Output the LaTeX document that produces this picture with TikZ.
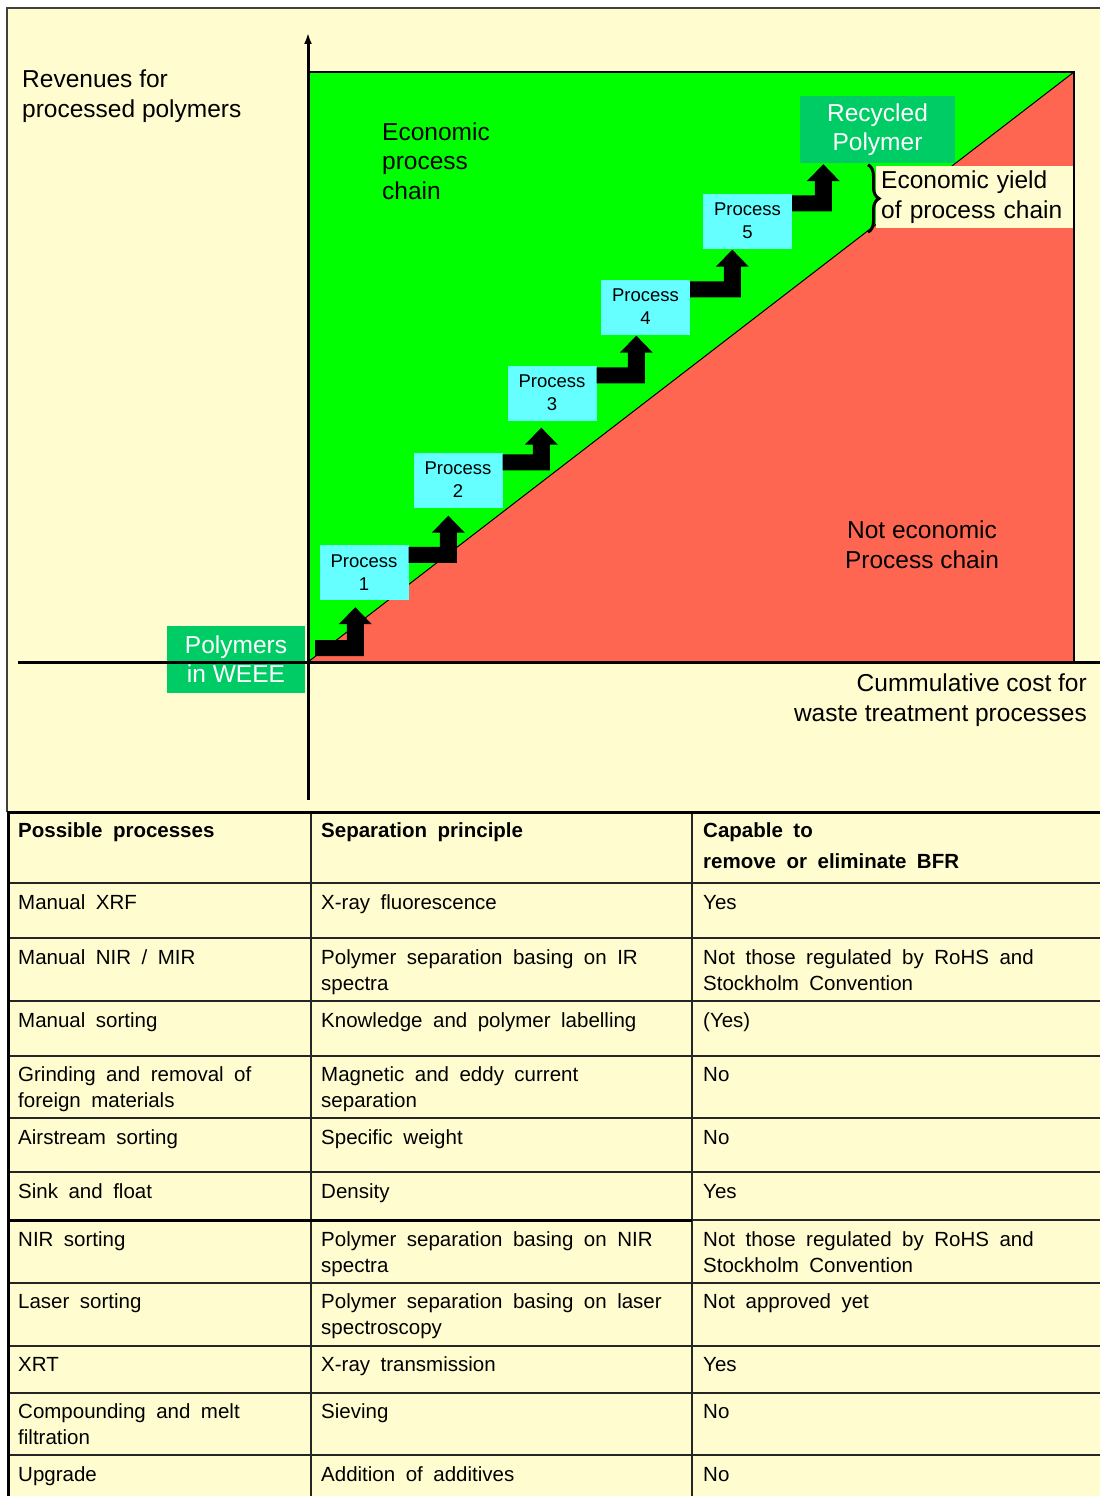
\documentclass[tikz,border=0pt]{standalone}
\usepackage{fontspec}
\setmainfont{Liberation Sans}
\usepackage{tikz}
\usetikzlibrary{arrows.meta,calc,decorations.pathreplacing}

\definecolor{paper}{RGB}{255,253,208}
\definecolor{econ}{RGB}{0,255,0}
\definecolor{loss}{RGB}{255,102,82}
\definecolor{poly}{RGB}{0,204,102}
\definecolor{proc}{RGB}{102,255,255}

\tikzset{
  axislabel/.style={font={\fontsize{24.5}{29.5}\selectfont}, inner sep=0pt, align=left},
  procbox/.style={fill=proc, minimum width=89pt, minimum height=55pt, inner sep=0pt, align=center, font={\fontsize{18.5}{23}\selectfont}},
  polybox/.style={fill=poly, text=white, inner sep=0pt, align=center, font={\fontsize{24.5}{29.5}\selectfont}},
  tabcell/.style={anchor=base west, inner sep=0pt, align=left, font={\fontsize{20.5}{26}\selectfont\spaceskip=10.5pt\relax}},
  tabhead/.style={tabcell, font={\fontsize{20.5}{31}\selectfont\bfseries\spaceskip=10.5pt\relax}},
}

% black step arrow: from point #1 up to node #2, tip #3 from its left side, #4 below it
\newcommand\steparrow[4]{%
  \fill[black] let \p1=(#1), \p2=(#2.south west) in
    (\x1, \y1-18pt) -- (\x2+#3pt+8.5pt, \y1-18pt) -- (\x2+#3pt+8.5pt, \y2-#4pt-17pt)
    -- (\x2+#3pt+16.5pt, \y2-#4pt-17pt) -- (\x2+#3pt, \y2-#4pt)
    -- (\x2+#3pt-16.5pt, \y2-#4pt-17pt) -- (\x2+#3pt-8.5pt, \y2-#4pt-17pt)
    -- (\x2+#3pt-8.5pt, \y1-2pt) -- (\x1, \y1-2pt) -- cycle;
}

\begin{document}
\begin{tikzpicture}[x=1pt, y=-1pt]
        \useasboundingbox (0,0) rectangle (1100,1496);
        \fill[white] (0,0) rectangle (1100,1496);
        \fill[paper] (7,8) rectangle (1100,1496);
        \draw[line width=1.5pt, black!75] (7,812) -- (7,8) -- (1100,8);

        % chart areas
        \fill[econ] (308,72) rectangle (1074,662);
        \fill[loss] (308,662) -- (1074,72) -- (1074,662) -- cycle;
        \draw[line width=1pt] (308,662) -- (1074,72);

        \coordinate (o) at (308,662);
        \coordinate (s0) at (315,638);

        \node[axislabel, anchor=base west] (rev) at (22,117) {Revenues for\\processed polymers};
        \node[axislabel, anchor=base west] (econlabel) at (382,199) {Economic\\process\\chain};
        \node[axislabel, anchor=base, align=center] (lossl) at (922,568) {Not economic\\Process chain};
        \node[axislabel, anchor=base east, align=right] (cost) at (1087,721) {Cummulative cost for\\waste treatment processes};

        \node[procbox] (p1) at (364,572.5) {Process\\1};
        \node[procbox] (p2) at (458,480) {Process\\2};
        \node[procbox] (p3) at (552,393) {Process\\3};
        \node[procbox] (p4) at (645.5,307) {Process\\4};
        \node[procbox] (p5) at (747.5,221) {Process\\5};

        \node[polybox, minimum width=155pt, minimum height=67pt] (rec) at (877.5,129.5) {Recycled\\Polymer};
        \node[polybox, minimum width=138pt, minimum height=67pt] (weee) at (236,659) {Polymers\\in WEEE};

        \node[axislabel, fill=paper, anchor=west, text width=188pt, minimum height=62pt, inner xsep=5pt] (yield) at (876,197) {Economic yield\\of process chain};

        \steparrow{s0}{p1}{36}{7}
        \steparrow{p1.north east}{p2}{35}{8}
        \steparrow{p2.north east}{p3}{34}{7}
        \steparrow{p3.north east}{p4}{35.5}{1}
        \steparrow{p4.north east}{p5}{29.5}{1}
        \steparrow{p5.north east}{rec}{23.5}{1}

        \draw[decorate, decoration={brace, amplitude=11pt}, line width=3pt]
            ($(yield.north west)+(-8,-1)$) -- ($(yield.south west)+(-8,4)$);

        \draw[line width=1.2pt] (308,72) -- (1074,72) -- (1074,662);

        % axes
        \draw[line width=3pt, -{Latex[length=11pt,width=8pt]}] (308,800) -- (308,33);
        \draw[line width=3pt] (18,662) -- (1100,662);

        % table
        \draw[line width=1.3pt, black!85] (311,812) -- (311,1496) (692,812) -- (692,1496);
        \draw[line width=1.3pt, black!85] (8,883) -- (1100,883) (8,938) -- (1100,938)
            (8,1001) -- (1100,1001) (8,1056) -- (1100,1056) (8,1118) -- (1100,1118)
            (8,1172) -- (1100,1172) (692,1220) -- (1100,1220) (8,1283) -- (1100,1283)
            (8,1346) -- (1100,1346) (8,1393) -- (1100,1393) (8,1455) -- (1100,1455);
        \draw[line width=3pt] (8,1220) -- (692,1220);
        \draw[line width=3pt] (1100,812) -- (8,812) -- (8,1496);

        \node[tabhead] (h1) at (18,837) {Possible processes};
        \node[tabhead] (h2) at (321,837) {Separation principle};
        \node[tabhead] (h3) at (703,868) {Capable to\\remove or eliminate BFR};

        \node[tabcell] (a1) at (18,909) {Manual XRF};
        \node[tabcell] (b1) at (321,909) {X-ray fluorescence};
        \node[tabcell] (c1) at (703,909) {Yes};

        \node[tabcell] (a2) at (18,964) {Manual NIR / MIR};
        \node[tabcell] (b2) at (321,990) {Polymer separation basing on IR\\spectra};
        \node[tabcell] (c2) at (703,990) {Not those regulated by RoHS and\\Stockholm Convention};

        \node[tabcell] (a3) at (18,1027) {Manual sorting};
        \node[tabcell] (b3) at (321,1027) {Knowledge and polymer labelling};
        \node[tabcell] (c3) at (703,1027) {(Yes)};

        \node[tabcell] (a4) at (18,1107) {Grinding and removal of\\foreign materials};
        \node[tabcell] (b4) at (321,1107) {Magnetic and eddy current\\separation};
        \node[tabcell] (c4) at (703,1081) {No};

        \node[tabcell] (a5) at (18,1144) {Airstream sorting};
        \node[tabcell] (b5) at (321,1144) {Specific weight};
        \node[tabcell] (c5) at (703,1144) {No};

        \node[tabcell] (a6) at (18,1198) {Sink and float};
        \node[tabcell] (b6) at (321,1198) {Density};
        \node[tabcell] (c6) at (703,1198) {Yes};

        \node[tabcell] (a7) at (18,1246) {NIR sorting};
        \node[tabcell] (b7) at (321,1272) {Polymer separation basing on NIR\\spectra};
        \node[tabcell] (c7) at (703,1272) {Not those regulated by RoHS and\\Stockholm Convention};

        \node[tabcell] (a8) at (18,1308) {Laser sorting};
        \node[tabcell] (b8) at (321,1334) {Polymer separation basing on laser\\spectroscopy};
        \node[tabcell] (c8) at (703,1308) {Not approved yet};

        \node[tabcell] (a9) at (18,1371) {XRT};
        \node[tabcell] (b9) at (321,1371) {X-ray transmission};
        \node[tabcell] (c9) at (703,1371) {Yes};

        \node[tabcell] (a10) at (18,1444) {Compounding and melt\\filtration};
        \node[tabcell] (b10) at (321,1418) {Sieving};
        \node[tabcell] (c10) at (703,1418) {No};

        \node[tabcell] (a11) at (18,1481) {Upgrade};
        \node[tabcell] (b11) at (321,1481) {Addition of additives};
        \node[tabcell] (c11) at (703,1481) {No};
    \end{tikzpicture}
\end{document}
